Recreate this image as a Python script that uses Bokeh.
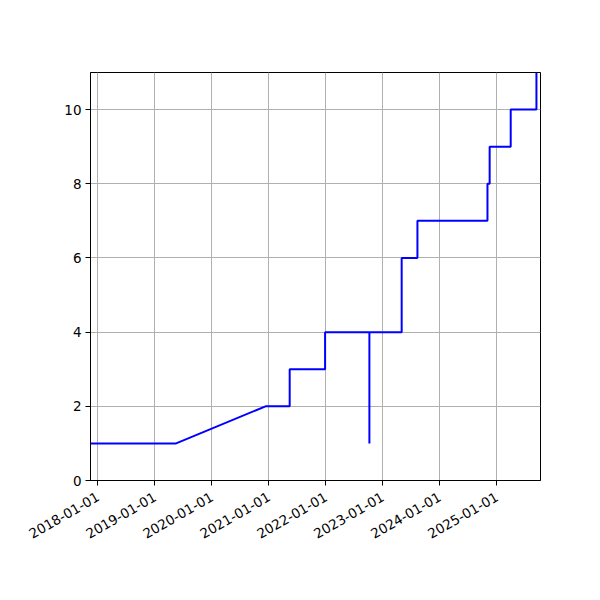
import math
import pandas as pd
from bokeh.plotting import figure
from bokeh.models import Range1d, FixedTicker, DatetimeTickFormatter
from bokeh.embed import file_html
from bokeh.resources import INLINE

# Data: vertices of the cumulative line
dates = ["2017-11-14", "2019-05-17", "2020-12-10", "2021-05-14", "2021-05-14",
         "2021-12-27", "2021-12-27", "2022-10-07", "2022-10-07", "2022-10-07",
         "2023-05-02", "2023-05-02", "2023-08-11", "2023-08-11", "2024-11-02",
         "2024-11-02", "2024-11-16", "2024-11-16", "2025-03-31", "2025-03-31",
         "2025-09-12", "2025-09-12"]
values = [1, 1, 2, 2, 3,
          3, 4, 4, 1, 4,
          4, 6, 6, 7, 7,
          8, 8, 9, 9, 10,
          10, 11]
x_start, x_end = "2017-11-14", "2025-10-08"
x_ticks = ["2018-01-01", "2019-01-01", "2020-01-01", "2021-01-01",
           "2022-01-01", "2023-01-01", "2024-01-01", "2025-01-01"]
y_ticks = [0, 2, 4, 6, 8, 10]
y_max = 11

xs = pd.to_datetime(dates)

p = figure(x_axis_type="datetime", output_backend="svg", toolbar_location=None,
           frame_width=450, frame_height=408,
           min_border_left=90, min_border_top=72, min_border_right=52, min_border_bottom=112,
           x_range=Range1d(pd.Timestamp(x_start), pd.Timestamp(x_end)),
           y_range=Range1d(0, y_max))

p.line(xs, values, line_color="blue", line_width=2)

tick_ms = [pd.Timestamp(t).value / 1e6 for t in x_ticks]
p.xaxis.ticker = FixedTicker(ticks=tick_ms)
fmt = "%Y-%m-%d"
p.xaxis.formatter = DatetimeTickFormatter(milliseconds=fmt, seconds=fmt, minsec=fmt, minutes=fmt,
                                          hourmin=fmt, hours=fmt, days=fmt, months=fmt, years=fmt)
p.xaxis.major_label_orientation = math.pi / 6
p.yaxis.ticker = FixedTicker(ticks=y_ticks)

for ax in (p.xaxis[0], p.yaxis[0]):
    ax.major_label_text_font = "DejaVu Sans"
    ax.major_label_text_font_size = "13.5px"
    ax.major_label_text_color = "black"
    ax.major_tick_in = 0
    ax.major_tick_out = 5
    ax.minor_tick_in = 0
    ax.minor_tick_out = 0
    ax.axis_line_color = "black"
    ax.major_tick_line_color = "black"
    ax.axis_line_width = 1
    ax.major_label_standoff = 4
p.xaxis.major_label_standoff = 10

p.xgrid.grid_line_color = "#b0b0b0"
p.ygrid.grid_line_color = "#b0b0b0"
p.xgrid.grid_line_width = 1
p.ygrid.grid_line_width = 1
p.outline_line_color = "black"
p.outline_line_width = 1
p.outline_line_alpha = 1
p.background_fill_color = "white"
p.border_fill_color = "white"

open("out.html", "w").write(file_html(p, INLINE))
